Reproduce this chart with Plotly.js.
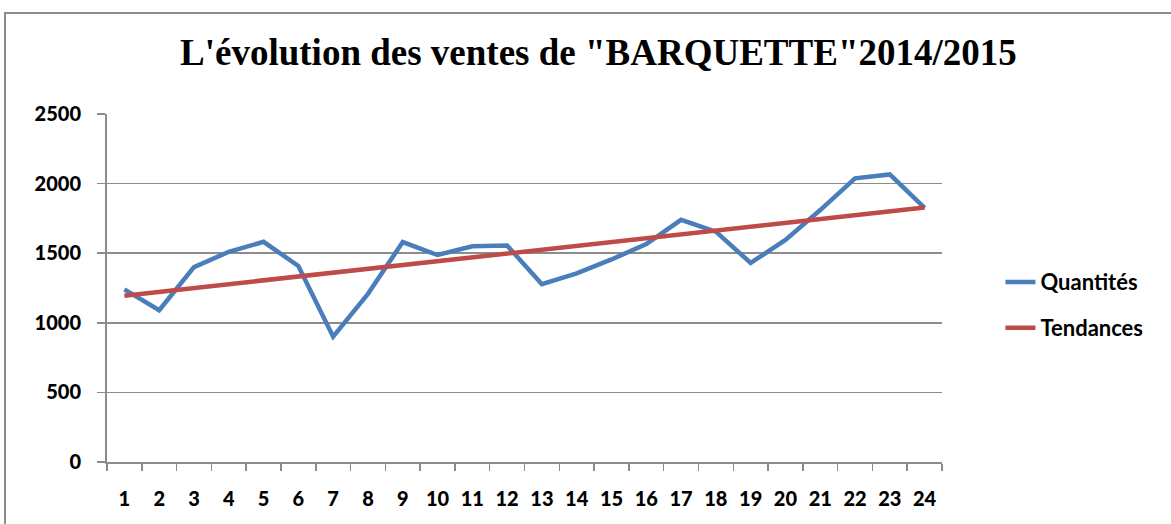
<!DOCTYPE html>
<html>
<head>
<meta charset="utf-8">
<script src="https://cdn.plot.ly/plotly-3.0.1.min.js"></script>
<style>
html,body{margin:0;padding:0;background:#fff;}
#frame{position:absolute;left:4px;top:12px;width:1200px;height:540px;border-left:2px solid #8c8c8c;border-top:2px solid #8c8c8c;box-sizing:border-box;}
#chart{position:absolute;left:0;top:0;width:1171px;height:524px;}
</style>
</head>
<body>
<div id="frame"></div>
<div id="chart"></div>
<script>
const months = ["1","2","3","4","5","6","7","8","9","10","11","12","13","14","15","16","17","18","19","20","21","22","23","24"];
const quantites = [1240,1090,1400,1510,1582,1408,900,1208,1580,1487,1550,1555,1277,1355,1455,1565,1740,1655,1430,1595,1810,2038,2066,1826];
const trendMonths = ["1","24"];
const tendances = [1195,1828];
const yTicks = [0,500,1000,1500,2000,2500];

const boldFont = {family:"Lato, 'Open Sans', sans-serif", size:20, color:"#000", weight:900};

const traces = [
  {x:months, y:quantites, type:"scatter", mode:"lines", name:"<b>Quantités</b>",
   line:{color:"#4A7EBB", width:4.5}, legend:"legend"},
  {x:trendMonths, y:tendances, type:"scatter", mode:"lines", name:"<b>Tendances</b>",
   line:{color:"#BE4B48", width:4.5}, legend:"legend2"}
];

const legendBase = {xanchor:"left", yanchor:"middle", x:1.070,
  font:{family:"Lato, 'Open Sans', sans-serif", size:22, color:"#000", weight:900},
  bgcolor:"rgba(0,0,0,0)"};

const layout = {
  width:1171, height:524,
  paper_bgcolor:"rgba(0,0,0,0)", plot_bgcolor:"rgba(0,0,0,0)",
  margin:{l:107, r:229, t:114, b:62},
  title:{text:"<b>L'évolution des ventes de \"BARQUETTE\"2014/2015</b>",
         font:{family:"'Liberation Serif', 'Times New Roman', serif", size:37, color:"#000"},
         x:0.511, xanchor:"center", y:0.9, yanchor:"middle"},
  xaxis:{type:"category", categoryorder:"array", categoryarray:months,
         tickson:"boundaries", ticks:"outside", ticklen:7, tickwidth:1.5, tickcolor:"#8c8c8c",
         showline:true, linecolor:"#8c8c8c", linewidth:2, showgrid:false,
         tickfont:boldFont, range:[-0.5,23.5], fixedrange:true, ticklabelstandoff:18},
  yaxis:{range:[0,2500], tickvals:yTicks, ticktext:yTicks.map(String),
         ticks:"outside", ticklen:8, tickwidth:1.5, tickcolor:"#8c8c8c",
         showline:true, linecolor:"#8c8c8c", linewidth:2,
         showgrid:true, gridcolor:"#8c8c8c", gridwidth:1.5, zeroline:false,
         tickfont:boldFont, ticklabelstandoff:12},
  legend:Object.assign({}, legendBase, {y:0.517}),
  legend2:Object.assign({}, legendBase, {y:0.385}),
  showlegend:true
};

Plotly.newPlot("chart", traces, layout, {displayModeBar:false, staticPlot:true});
</script>
</body>
</html>
